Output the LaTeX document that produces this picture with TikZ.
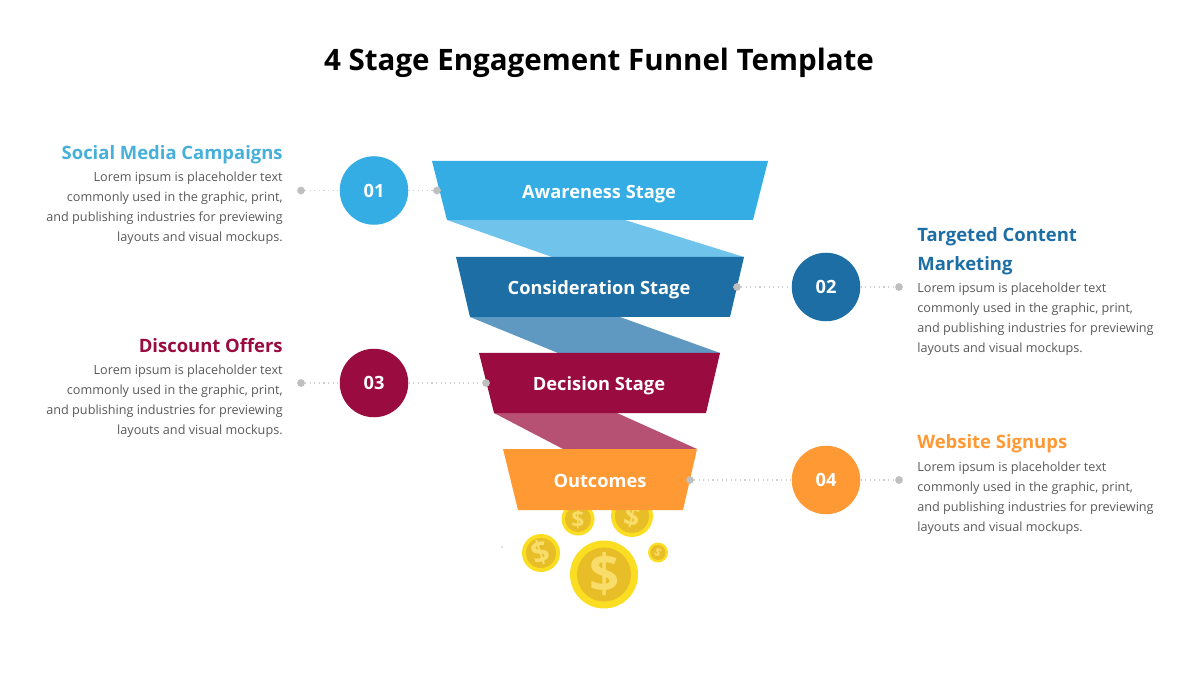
\documentclass[tikz,border=0pt]{standalone}
\usepackage{fontspec}
\setmainfont{Open Sans}
\definecolor{skyblue}{HTML}{33ADE3}
\definecolor{skyhead}{HTML}{45B0D9}
\definecolor{skylight}{HTML}{70C4EB}
\definecolor{navyblue}{HTML}{1C6EA4}
\definecolor{navylight}{HTML}{5F99C1}
\definecolor{crimson}{HTML}{9A0B3F}
\definecolor{crimsonlight}{HTML}{B65173}
\definecolor{amber}{HTML}{FF9933}
\definecolor{coinrim}{HTML}{FBDD22}
\definecolor{coinface}{HTML}{E8BE28}
\definecolor{coinmark}{HTML}{F9DD6A}
\definecolor{greytext}{HTML}{595959}
\definecolor{dotgrey}{HTML}{BFBFBF}
\tikzset{
  stagetext/.style={text=white,font=\fontsize{10.4}{12}\selectfont\bfseries},
  numcircle/.style={circle,minimum size=39pt,inner sep=0pt,text=white,font=\fontsize{10.4}{12}\selectfont\bfseries},
  headtext/.style={font=\fontsize{10.5}{16.5}\selectfont\bfseries,inner sep=0pt},
  bodytext/.style={text=greytext,font=\fontsize{7.2}{11.3}\selectfont,inner sep=0pt},
  enddot/.style={circle,fill=dotgrey,minimum size=4.4pt,inner sep=0pt},
  leader/.style={dotgrey!75,line width=.6pt,dotted},
  coinlabel/.style={text=coinmark,inner sep=0pt,font=\bfseries}
}
\newcommand{\lorem}{Lorem ipsum is placeholder text\\commonly used in the graphic, print,\\and publishing industries for previewing\\layouts and visual mockups.}
\begin{document}
\begin{tikzpicture}[x=.02cm,y=-.02cm]
	\useasboundingbox (0,0) rectangle (1200,675);
	\node (title) at(599,63) {\fontsize{16.8}{20}\selectfont\bfseries 4 Stage Engagement Funnel Template};
	% coins, behind the last stage
	\fill [coinrim] (604,574.5) circle (34);
	\fill [coinface] (604,574.5) circle (27);
	\node [coinlabel,scale=3] (c1) at(604.5,574.5) {\$};
	\fill [coinrim] (541,553) circle (19);
	\fill [coinface] (541,553) circle (15);
	\node [coinlabel,rotate=18,scale=1.75] (c2) at(541,553) {\$};
	\fill [coinrim] (658,552.5) circle (10);
	\fill [coinface] (658,552.5) circle (7.5);
	\node [coinlabel,rotate=-30,scale=.65] (c3) at(658,552.5) {\$};
	\fill [coinrim] (578,519) circle (16.5);
	\fill [coinface] (578,519) circle (13);
	\node [coinlabel,scale=1.3] (c4) at(578,519) {\$};
	\fill [coinrim] (632,516) circle (21);
	\fill [coinface] (632,516) circle (17);
	\node [coinlabel,rotate=-12,scale=1.6] (c5) at(632,517) {\$};
	\fill [dotgrey] (502,547) circle (.8);
	% bands
	\fill [skylight] (447,220) -- (625,220) -- (744,257) -- (552,257) -- cycle;
	\fill [navylight] (470,317) -- (620,317) -- (720,353) -- (558,353) -- cycle;
	\fill [crimsonlight] (494,413) -- (617,413) -- (697,449) -- (563,449) -- cycle;
	% stages
	\fill [skyblue] (432,161) -- (768,161) -- (753,220) -- (447,220) -- cycle;
	\fill [navyblue] (456,257) -- (744,257) -- (730,317) -- (470,317) -- cycle;
	\fill [crimson] (479,353) -- (720,353) -- (706,413) -- (494,413) -- cycle;
	\fill [amber] (503,449) -- (697,449) -- (683,510) -- (518,510) -- cycle;
	\node [stagetext] (s1) at(599,194) {Awareness Stage};
	\node [stagetext] (s2) at(599,290) {Consideration Stage};
	\node [stagetext] (s3) at(599,386) {Decision Stage};
	\node [stagetext] (s4) at(600,481) {Outcomes};
	% circles
	\node [numcircle,fill=skyblue] (n1) at(374,190.5) {01};
	\node [numcircle,fill=navyblue] (n2) at(826,287) {02};
	\node [numcircle,fill=crimson] (n3) at(374,383) {03};
	\node [numcircle,fill=amber] (n4) at(826,480) {04};
	% leaders
	\node [enddot] (a1) at(301,190.5) {};
	\node [enddot] (b1) at(437,190.5) {};
	\node [enddot] (a2) at(737,287) {};
	\node [enddot] (b2) at(899,287) {};
	\node [enddot] (a3) at(301,383) {};
	\node [enddot] (b3) at(486,383) {};
	\node [enddot] (a4) at(690,480) {};
	\node [enddot] (b4) at(899,480) {};
	\draw [leader] (a1) -- (n1);
	\draw [leader] (n1) -- (b1);
	\draw [leader] (a2) -- (n2);
	\draw [leader] (n2) -- (b2);
	\draw [leader] (a3) -- (n3);
	\draw [leader] (n3) -- (b3);
	\draw [leader] (a4) -- (n4);
	\draw [leader] (n4) -- (b4);
	% texts
	\node [headtext,anchor=base east,text=skyhead] (h1) at(283,159.5) {Social Media Campaigns};
	\node [bodytext,anchor=north east,align=right] (t1) at(283,171.5) {\lorem};
	\node [headtext,anchor=north west,align=left,text=navyblue] (h2) at(917,227) {Targeted Content\\Marketing};
	\node [bodytext,anchor=north west,align=left] (t2) at(917,282.5) {\lorem};
	\node [headtext,anchor=base east,text=crimson] (h3) at(283,352.5) {Discount Offers};
	\node [bodytext,anchor=north east,align=right] (t3) at(283,364.5) {\lorem};
	\node [headtext,anchor=base west,text=amber] (h4) at(917,448.5) {Website Signups};
	\node [bodytext,anchor=north west,align=left] (t4) at(917,461.5) {\lorem};
\end{tikzpicture}
\end{document}
